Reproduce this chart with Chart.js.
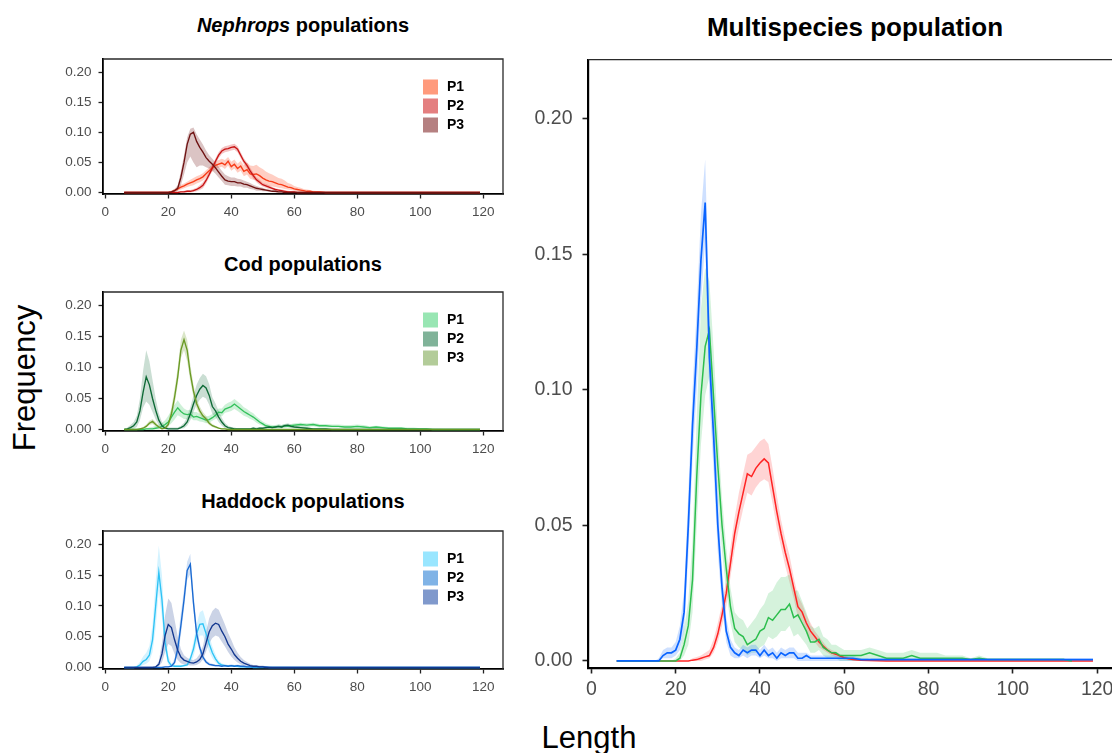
<!DOCTYPE html>
<html><head><meta charset="utf-8">
<script src="https://cdn.jsdelivr.net/npm/chart.js@4.4.1/dist/chart.umd.min.js"></script>
<style>
html,body{margin:0;padding:0;width:1112px;height:753px;overflow:hidden;background:#fff;font-family:"Liberation Sans",Arial,Helvetica,sans-serif;}
canvas{position:absolute;}
.t{position:absolute;color:#000;white-space:nowrap;transform:translate(-50%,-50%);}
</style></head><body>
<div class="t" style="left:303px;top:25px;font-size:20px;font-weight:bold"><i>Nephrops</i> populations</div>
<div class="t" style="left:303px;top:264px;font-size:20px;font-weight:bold">Cod populations</div>
<div class="t" style="left:303px;top:501px;font-size:20px;font-weight:bold">Haddock populations</div>
<div class="t" style="left:855px;top:27px;font-size:26px;font-weight:bold">Multispecies population</div>
<div class="t" style="left:25px;top:378px;font-size:31px;transform:translate(-50%,-50%) rotate(-90deg)">Frequency</div>
<div class="t" style="left:589px;top:738px;font-size:31px">Length</div>
<canvas id="c1" width="490" height="186" style="left:33px;top:39px"></canvas>
<canvas id="c2" width="490" height="190" style="left:33px;top:272px"></canvas>
<canvas id="c3" width="490" height="189" style="left:33px;top:511px"></canvas>
<canvas id="c4" width="643" height="675" style="left:498px;top:38px"></canvas>
<script>
// ---------- tick labels ----------
const X_TICKS = [0, 20, 40, 60, 80, 100, 120];
const Y_TICKS = [0, 0.05, 0.10, 0.15, 0.20];
const SERIES_LABELS = ['P1', 'P2', 'P3'];

// ---------- Nephrops panel ----------
const nephLengths = [6, 18,
  20,21,22,23,24,25,26,27,28,29,
  30,31,32,33,34,35,36,37,38,39,
  40,41,42,43,44,45,46,47,48,49,
  50,51,52,53,54,55,56,57,58,59,
  60,61,62,63,64,65,66, 68,70,72, 119];
const nephP1 = [0,0,
  0,.001,.003,.006,.009,.011,.014,.016,.018,.021,
  .023,.026,.031,.036,.041,.045,.047,.049,.046,.052,
  .043,.047,.040,.044,.035,.038,.031,.030,.031,.028,
  .024,.021,.019,.018,.016,.014,.013,.011,.009,.008,
  .006,.005,.004,.003,.002,.002,.001, .001,0,0, 0];
const nephP1Hi = [0,0,
  .001,.003,.006,.009,.013,.015,.018,.021,.024,.027,
  .029,.032,.037,.042,.047,.051,.054,.056,.054,.059,
  .051,.055,.048,.053,.045,.050,.045,.044,.046,.042,
  .039,.035,.032,.030,.027,.024,.023,.020,.016,.014,
  .011,.009,.008,.006,.005,.004,.003, .002,.001,0, 0];
const nephP1Lo = [0,0,
  0,0,.001,.003,.005,.007,.009,.011,.012,.015,
  .017,.020,.025,.030,.035,.039,.041,.043,.039,.045,
  .036,.040,.033,.036,.027,.030,.023,.021,.021,.018,
  .015,.013,.011,.010,.009,.008,.007,.006,.005,.004,
  .003,.002,.001,.001,0,0,0, 0,0,0, 0];
const nephP2 = [0,0,
  0,0,0,0,.001,.001,.002,.002,.003,.005,
  .008,.012,.020,.030,.041,.052,.062,.069,.072,.073,
  .075,.076,.072,.062,.052,.045,.036,.028,.021,.017,
  .013,.011,.009,.007,.005,.004,.003,.002,.001,.001,
  .001,0,0,0,0,0,0, 0,0,0, 0];
const nephP2Hi = [0,0,
  0,0,.001,.001,.002,.003,.004,.004,.006,.008,
  .012,.017,.025,.035,.046,.057,.067,.074,.077,.078,
  .080,.081,.077,.067,.057,.050,.041,.033,.025,.021,
  .016,.014,.012,.009,.007,.006,.005,.004,.003,.002,
  .002,.001,.001,0,0,0,0, 0,0,0, 0];
const nephP2Lo = [0,0,
  0,0,0,0,0,0,0,0,.001,.002,
  .004,.007,.015,.025,.036,.047,.057,.064,.067,.068,
  .070,.071,.067,.057,.047,.040,.031,.023,.017,.013,
  .010,.008,.006,.005,.003,.002,.001,.001,0,0,
  0,0,0,0,0,0,0, 0,0,0, 0];
const nephP3 = [0,0,
  0,.001,.003,.007,.025,.050,.080,.097,.100,.085,
  .075,.067,.058,.052,.047,.041,.034,.027,.021,.019,
  .018,.018,.016,.016,.014,.013,.011,.009,.007,.006,
  .005,.004,.003,.002,.002,.001,.001,0,0,0,
  0,0,0,0,0,0,0, 0,0,0, 0];
const nephP3Hi = [0,0,
  .001,.003,.006,.012,.035,.062,.092,.106,.108,.097,
  .088,.080,.070,.062,.056,.050,.043,.036,.030,.027,
  .025,.025,.023,.022,.020,.018,.016,.013,.011,.009,
  .008,.006,.005,.004,.003,.002,.002,.001,.001,0,
  0,0,0,0,0,0,0, 0,0,0, 0];
const nephP3Lo = [0,0,
  0,0,.001,.003,.012,.030,.050,.060,.050,.042,
  .045,.045,.042,.040,.036,.031,.025,.019,.013,.012,
  .011,.011,.010,.010,.008,.008,.006,.005,.003,.003,
  .002,.002,.001,.001,0,0,0,0,0,0,
  0,0,0,0,0,0,0, 0,0,0, 0];

// ---------- Cod panel ----------
const codLengths = [6,7,8,9,
  10,11,12,13,14,15,16,17,18,19,
  20,21,22,23,24,25,26,27,28,29,
  30,31,32,33,34,35,36,37,38,39,
  40,41,42,43,44,45,46,47,48,49,
  50,51,52,53,54,55,56,57,58,59,
  60,
  62,64,66,68,70,72,74,76,78,80,
  82,84,86,88,90,92,94,96,98,100,
  102,104,
  119];
const codP1 = [0,0,0,0,
  0,0,0,.001,.001,.001,.002,.003,.005,.008,
  .012,.020,.028,.035,.029,.025,.024,.025,.020,.021,
  .019,.017,.015,.016,.019,.023,.028,.027,.033,.035,
  .037,.041,.037,.033,.029,.026,.023,.020,.016,.012,
  .009,.006,.005,.004,.004,.005,.004,.006,.005,.006,
  .007,
  .008,.007,.008,.006,.006,.005,.005,.004,.004,.005,
  .004,.003,.004,.003,.002,.002,.002,.001,.001,.001,
  .001,0,
  0];
const codP1Hi = [0,0,0,0,
  0,.001,.001,.002,.003,.004,.006,.008,.011,.015,
  .022,.031,.040,.047,.040,.034,.031,.032,.028,.028,
  .025,.023,.021,.022,.025,.029,.034,.034,.040,.043,
  .045,.049,.045,.041,.036,.033,.029,.026,.021,.017,
  .013,.010,.008,.007,.007,.008,.007,.009,.008,.009,
  .010,
  .011,.010,.011,.009,.009,.008,.008,.007,.007,.008,
  .007,.005,.006,.005,.004,.004,.004,.003,.003,.002,
  .002,.001,
  0];
const codP1Lo = [0,0,0,0,
  0,0,0,0,0,0,0,0,.001,.003,
  .005,.010,.016,.023,.020,.017,.017,.019,.015,.015,
  .013,.012,.010,.011,.014,.017,.022,.021,.027,.028,
  .030,.033,.030,.026,.022,.020,.017,.015,.011,.008,
  .006,.003,.003,.002,.002,.003,.002,.003,.003,.003,
  .004,
  .005,.004,.005,.003,.003,.003,.003,.002,.002,.002,
  .002,.001,.002,.001,.001,.001,.001,0,0,0,
  0,0,
  0];
const codP2 = [0,.001,.003,.006,
  .012,.030,.060,.085,.072,.050,.031,.015,.006,.002,
  .001,.001,.001,.001,.003,.006,.012,.025,.041,.055,
  .065,.071,.067,.055,.037,.030,.020,.012,.006,.003,
  .002,.001,.001,.001,.001,.001,.001,.002,.001,.002,
  .002,.003,.004,.003,.004,.005,.004,.006,.007,.005,
  .004,
  .003,.002,.001,.001,.001,0,0,0,0,0,
  0,0,0,0,0,0,0,0,0,0,
  0,0,
  0];
const codP2Hi = [0,.003,.007,.012,
  .022,.050,.095,.128,.110,.080,.050,.026,.012,.005,
  .003,.003,.003,.003,.006,.011,.020,.036,.055,.072,
  .083,.090,.086,.073,.052,.042,.030,.019,.011,.006,
  .004,.003,.002,.002,.002,.002,.002,.004,.003,.004,
  .004,.005,.006,.005,.006,.008,.007,.009,.010,.008,
  .007,
  .005,.004,.002,.002,.002,.001,.001,0,0,0,
  0,0,0,0,0,0,0,0,0,0,
  0,0,
  0];
const codP2Lo = [0,0,0,.001,
  .004,.015,.035,.045,.040,.028,.016,.007,.002,0,
  0,0,0,0,.001,.002,.006,.015,.028,.040,
  .048,.053,.050,.040,.025,.020,.012,.006,.002,.001,
  0,0,0,0,0,0,0,0,0,0,
  0,.001,.002,.001,.002,.002,.002,.003,.004,.002,
  .002,
  .001,0,0,0,0,0,0,0,0,0,
  0,0,0,0,0,0,0,0,0,0,
  0,0,
  0];
const codP3 = [0,0,0,0,
  0,.001,.002,.005,.010,.013,.008,.004,.001,.002,
  .008,.025,.052,.085,.128,.145,.128,.090,.062,.042,
  .030,.022,.017,.010,.006,.004,.002,.001,.001,0,
  0,0,0,0,0,0,0,0,0,0,
  0,0,0,0,0,0,0,0,0,0,
  0,
  0,0,0,0,0,0,0,0,0,0,
  0,0,0,0,0,0,0,0,0,0,
  0,0,
  0];
const codP3Hi = [0,0,0,0,
  0,.002,.004,.008,.014,.017,.012,.006,.002,.004,
  .012,.036,.065,.100,.145,.160,.145,.105,.072,.050,
  .037,.028,.022,.014,.009,.006,.003,.002,.002,.001,
  0,0,0,0,0,0,0,0,0,0,
  0,0,0,0,0,0,0,0,0,0,
  0,
  0,0,0,0,0,0,0,0,0,0,
  0,0,0,0,0,0,0,0,0,0,
  0,0,
  0];
const codP3Lo = [0,0,0,0,
  0,0,.001,.003,.007,.009,.005,.002,0,.001,
  .004,.018,.040,.072,.115,.128,.110,.078,.052,.034,
  .024,.017,.012,.007,.004,.002,.001,0,0,0,
  0,0,0,0,0,0,0,0,0,0,
  0,0,0,0,0,0,0,0,0,0,
  0,
  0,0,0,0,0,0,0,0,0,0,
  0,0,0,0,0,0,0,0,0,0,
  0,0,
  0];

// ---------- Haddock panel ----------
const hadLengths = [6,8,9,
  10,11,12,13,14,15,16,17,18,19,
  20,21,22,23,24,25,26,27,28,29,
  30,31,32,33,34,35,36,37,38,39,
  40,41,42,43,44,45,46,47,48,49,
  50,51,52,53,54,55,
  58,62,119];
const hadP1 = [0,0,0,
  .001,.004,.010,.013,.020,.045,.100,.155,.110,.040,
  .010,.003,.002,.002,.002,.003,.004,.014,.030,.055,
  .070,.071,.055,.038,.024,.014,.007,.004,.003,.002,
  .003,.002,.002,.001,.001,.001,.001,0,0,0,
  0,0,0,0,0,0,
  0,0,0];
const hadP1Hi = [0,0,0,
  .003,.009,.018,.024,.035,.070,.140,.198,.150,.060,
  .020,.007,.004,.004,.004,.005,.007,.020,.042,.070,
  .090,.093,.075,.052,.034,.021,.011,.007,.005,.004,
  .005,.004,.003,.002,.002,.002,.001,.001,0,0,
  0,0,0,0,0,0,
  0,0,0];
const hadP1Lo = [0,0,0,
  0,.001,.004,.006,.010,.025,.065,.125,.080,.025,
  .004,.001,0,0,0,.001,.002,.007,.018,.038,
  .052,.052,.038,.025,.015,.008,.004,.002,.001,.001,
  .001,.001,0,0,0,0,0,0,0,0,
  0,0,0,0,0,0,
  0,0,0];
const hadP2 = [0,0,0,
  0,0,0,0,0,0,0,0,0,.001,
  .001,.002,.008,.030,.068,.110,.158,.168,.105,.055,
  .032,.017,.009,.005,.004,.003,.003,.002,.003,.002,
  .003,.002,.003,.002,.002,.001,.001,.001,.001,.001,
  .001,.001,0,0,0,0,
  0,0,0];
const hadP2Hi = [0,0,0,
  0,0,0,0,0,0,0,0,.001,.002,
  .002,.004,.015,.045,.088,.128,.172,.185,.122,.068,
  .040,.022,.012,.008,.006,.005,.005,.004,.005,.004,
  .005,.004,.005,.004,.003,.002,.002,.002,.002,.002,
  .002,.001,.001,0,0,0,
  0,0,0];
const hadP2Lo = [0,0,0,
  0,0,0,0,0,0,0,0,0,0,
  0,.001,.004,.020,.052,.095,.142,.152,.092,.045,
  .025,.012,.006,.003,.002,.001,.001,.001,.001,.001,
  .001,.001,.001,.001,0,0,0,0,0,0,
  0,0,0,0,0,0,
  0,0,0];
const hadP3 = [0,0,0,
  0,0,0,0,0,0,.001,.005,.022,.052,
  .070,.065,.045,.028,.017,.012,.010,.008,.007,.009,
  .013,.022,.040,.058,.068,.072,.070,.059,.050,.038,
  .030,.021,.015,.010,.007,.005,.003,.002,.002,.001,
  .001,0,0,0,0,0,
  0,0,0];
const hadP3Hi = [0,0,0,
  0,0,0,0,0,0,.002,.010,.040,.085,
  .112,.105,.078,.050,.030,.020,.016,.013,.012,.015,
  .022,.035,.058,.080,.092,.097,.094,.082,.070,.056,
  .045,.033,.024,.017,.012,.009,.006,.004,.004,.003,
  .003,.002,.002,.001,.001,.001,
  .001,0,0];
const hadP3Lo = [0,0,0,
  0,0,0,0,0,0,0,.002,.008,.025,
  .038,.035,.022,.012,.007,.005,.004,.003,.003,.004,
  .007,.013,.026,.040,.048,.052,.050,.042,.034,.025,
  .018,.012,.008,.005,.003,.002,.001,.001,.001,0,
  0,0,0,0,0,0,
  0,0,0];

// ---------- Multispecies panel ----------
const mainLengths = [6,
  14,15,16,17,18,19,
  20,21,22,23,24,25,26,27,28,29,
  30,31,32,33,34,35,36,37,38,39,
  40,41,42,43,44,45,46,47,48,49,
  50,51,52,53,54,55,56,57,58,59,
  60,61,62,
  64,66,68,70,72,74,76,78,80,82,
  84,86,88,90,92,94,96,98,100,102,
  104,106,108,110,112,114,
  119];
const mainNephrops = [0,
  0,0,0,0,0,0,
  0,0,0,0,.0003,.0005,.001,.0015,.002,.005,
  .010,.017,.025,.036,.047,.055,.062,.069,.068,.071,
  .073,.0745,.073,.064,.055,.047,.040,.034,.027,.020,
  .018,.014,.011,.009,.007,.0055,.004,.003,.0025,.0018,
  .0012,.0008,.0005,
  .0003,.0002,.0001,0,0,0,0,0,0,0,
  0,0,0,0,0,0,0,0,0,0,
  0,0,0,0,0,0,
  0];
const mainNephropsHi = [0,
  0,0,0,0,0,0,
  0,0,0,0,.001,.0015,.002,.003,.004,.008,
  .014,.021,.030,.042,.053,.062,.069,.076,.077,.079,
  .081,.082,.080,.071,.061,.052,.045,.039,.031,.024,
  .021,.017,.014,.011,.009,.007,.005,.004,.0035,.0025,
  .002,.0015,.001,
  .0008,.0005,.0003,0,0,0,0,0,0,0,
  0,0,0,0,0,0,0,0,0,0,
  0,0,0,0,0,0,
  0];
const mainNephropsLo = [0,
  0,0,0,0,0,0,
  0,0,0,0,0,0,0,.0005,.001,.003,
  .007,.013,.020,.031,.041,.049,.056,.062,.061,.064,
  .066,.067,.066,.058,.049,.042,.035,.029,.023,.016,
  .015,.011,.008,.007,.005,.004,.003,.002,.0015,.001,
  .0005,.0003,.0002,
  0,0,0,0,0,0,0,0,0,0,
  0,0,0,0,0,0,0,0,0,0,
  0,0,0,0,0,0,
  0];
const mainCod = [0,
  0,0,0,0,0,0,
  0,.001,.006,.013,.030,.068,.098,.116,.122,.097,
  .072,.050,.034,.020,.012,.010,.009,.006,.007,.008,
  .011,.012,.016,.015,.017,.019,.019,.021,.016,.017,
  .014,.011,.007,.007,.008,.005,.004,.003,.003,.002,
  .002,.002,.002,
  .002,.003,.002,.001,.001,.001,.002,.001,.001,.001,
  .001,.001,.001,.0005,.001,.0005,.0005,.0005,.0005,.0005,
  .0005,.0005,.0005,.0005,.0005,0,
  null];
const mainCodHi = [0,
  0,0,0,0,0,0,
  .001,.003,.012,.022,.045,.090,.130,.145,.140,.115,
  .085,.060,.042,.027,.018,.016,.015,.012,.014,.016,
  .019,.021,.025,.026,.029,.031,.031,.032,.026,.026,
  .022,.018,.013,.012,.013,.009,.008,.006,.006,.005,
  .004,.004,.004,
  .004,.005,.004,.003,.003,.003,.004,.003,.003,.003,
  .002,.002,.002,.001,.002,.001,.001,.001,.001,.001,
  .001,.001,.001,.001,.001,0,
  null];
const mainCodLo = [0,
  0,0,0,0,0,0,
  0,0,.002,.006,.018,.050,.080,.098,.105,.082,
  .060,.040,.026,.014,.007,.005,.004,.002,.003,.003,
  .005,.006,.009,.008,.009,.011,.011,.013,.009,.010,
  .008,.006,.003,.003,.004,.002,.001,.001,.001,0,
  0,0,0,
  0,.001,0,0,0,0,0,0,0,0,
  0,0,0,0,0,0,0,0,0,0,
  0,0,0,0,0,0,
  null];
const mainHaddock = [0,
  0,0,0,.002,.003,.003,
  .004,.008,.018,.050,.087,.115,.148,.169,.112,.083,
  .050,.027,.011,.005,.003,.002,.004,.003,.004,.004,
  .002,.004,.002,.003,.001,.003,.002,.003,.003,.001,
  .001,.002,.001,.001,.001,.001,.001,.001,.001,.001,
  .001,.001,.001,
  .0005,.0005,.0005,.0005,.0005,.0005,.0005,.0005,.0005,.0005,
  .0005,.0005,.0005,.0005,.0005,.0005,.0005,.0005,.0005,.0005,
  .0005,.0005,.0005,.0005,.0005,.0005,
  .0005];
const mainHaddockHi = [0,
  0,0,.001,.004,.005,.005,
  .007,.013,.026,.062,.100,.130,.165,.185,.128,.098,
  .060,.034,.016,.008,.005,.004,.006,.005,.006,.006,
  .004,.006,.004,.005,.003,.005,.004,.005,.005,.003,
  .003,.003,.002,.002,.002,.002,.002,.002,.002,.002,
  .002,.002,.002,
  .001,.001,.001,.001,.001,.001,.001,.001,.001,.001,
  .001,.001,.001,.001,.001,.001,.001,.001,.001,.001,
  .001,.001,.001,.001,.001,.001,
  .001];
const mainHaddockLo = [0,
  0,0,0,.001,.001,.001,
  .002,.004,.011,.039,.074,.100,.132,.155,.097,.070,
  .040,.020,.007,.002,.001,.001,.002,.001,.002,.002,
  .001,.002,.001,.001,0,.001,.001,.001,.001,0,
  0,0,0,0,0,0,0,0,0,0,
  0,0,0,
  0,0,0,0,0,0,0,0,0,0,
  0,0,0,0,0,0,0,0,0,0,
  0,0,0,0,0,0,
  0];

// ---------- drawing ----------
const FONT = '"Liberation Sans", Arial, Helvetica, sans-serif';

const boxPlugin = {
  id: 'box',
  afterDraw(chart) {
    const {ctx, chartArea: a} = chart;
    ctx.save();
    ctx.strokeStyle = '#2a2a2a';
    ctx.lineWidth = 1.3;
    ctx.beginPath();
    ctx.moveTo(a.left, a.top); ctx.lineTo(a.right, a.top); ctx.lineTo(a.right, a.bottom);
    ctx.stroke();
    ctx.restore();
  }
};
const keyLegend = {
  id: 'keyLegend',
  afterDraw(chart, args, opts) {
    if (!opts || !opts.items) return;
    const {ctx, chartArea: a} = chart;
    ctx.save();
    ctx.font = 'bold 14px ' + FONT;
    ctx.textBaseline = 'middle';
    ctx.textAlign = 'left';
    opts.items.forEach((it, i) => {
      const cy = a.top + opts.y0 + i * opts.dy;
      ctx.fillStyle = it.color;
      ctx.fillRect(a.left + opts.x, cy - 7.5, 15, 15);
      ctx.fillStyle = '#000';
      ctx.fillText(it.label, a.left + opts.x + 24, cy + 0.5);
    });
    ctx.restore();
  }
};
Chart.register(boxPlugin, keyLegend);

// k = stacking rank: later series drawn on top (lower order value = drawn later)
function ribbon(len, mean, lo, hi, line, fill, lw, k) {
  const pts = arr => len.map((x, i) => ({x: x, y: arr[i]}));
  return [
    {data: pts(hi), borderColor: 'rgba(0,0,0,0)', borderWidth: 0, backgroundColor: fill, fill: '+1', pointRadius: 0, order: 20 - k},
    {data: pts(lo), borderColor: 'rgba(0,0,0,0)', borderWidth: 0, backgroundColor: 'rgba(0,0,0,0)', fill: false, pointRadius: 0, order: 20 - k},
    {data: pts(mean), borderColor: line, borderWidth: lw, fill: false, pointRadius: 0, order: 10 - k}
  ];
}

function makeChart(id, datasets, o) {
  const yTickVals = Y_TICKS, xTickVals = X_TICKS;
  return new Chart(document.getElementById(id), {
    type: 'line',
    data: {datasets: datasets},
    options: {
      responsive: false, animation: false, devicePixelRatio: 1,
      layout: {padding: o.padding},
      elements: {line: {tension: 0}, point: {radius: 0}},
      plugins: {legend: {display: false}, tooltip: {enabled: false}, keyLegend: o.legend || {}},
      scales: {
        x: {
          type: 'linear', min: o.xmin, max: o.xmax,
          afterBuildTicks: ax => { ax.ticks = xTickVals.map(v => ({value: v})); },
          afterFit: s => { s.height = o.xh; },
          ticks: {color: '#4d4d4d', font: {family: FONT, size: o.fs}, padding: o.xpad, maxRotation: 0, autoSkip: false, callback: v => String(v)},
          grid: {display: true, drawOnChartArea: false, drawTicks: true, tickLength: o.tl, tickWidth: o.tw, tickColor: '#222'},
          border: {display: true, color: '#000', width: o.bw}
        },
        y: {
          type: 'linear', min: o.ymin, max: o.ymax,
          afterBuildTicks: ax => { ax.ticks = yTickVals.map(v => ({value: v})); },
          afterFit: s => { s.width = o.yw; },
          ticks: {color: '#4d4d4d', font: {family: FONT, size: o.fs}, padding: o.ypad, callback: v => v.toFixed(2)},
          grid: {display: true, drawOnChartArea: false, drawTicks: true, tickLength: o.tl, tickWidth: o.tw, tickColor: '#222'},
          border: {display: true, color: '#000', width: o.bw}
        }
      }
    }
  });
}

const smallOpts = (legendColors) => ({
  padding: {left: 10, right: 20, top: 20, bottom: 1},
  xmin: -0.73, xmax: 126.3, ymin: -0.0025, ymax: 0.222,
  xh: 30, yw: 60, fs: 13.5, xpad: 6, ypad: 7, tl: 4.5, tw: 1.3, bw: 1.8,
  legend: {x: 320, y0: 28, dy: 19, items: SERIES_LABELS.map((l, i) => ({label: l, color: legendColors[i]}))}
});

// Nephrops
makeChart('c1', [].concat(
  ribbon(nephLengths, nephP1, nephP1Lo, nephP1Hi, '#F83C18', 'rgba(255,80,40,0.28)', 1.35, 0),
  ribbon(nephLengths, nephP2, nephP2Lo, nephP2Hi, '#C81414', 'rgba(210,20,20,0.25)', 1.35, 1),
  ribbon(nephLengths, nephP3, nephP3Lo, nephP3Hi, '#6E1212', 'rgba(110,20,20,0.25)', 1.35, 2)
), smallOpts(['#FF9A7C', '#E47F80', '#B58081']));

// Cod
makeChart('c2', [].concat(
  ribbon(codLengths, codP1, codP1Lo, codP1Hi, '#34C25C', 'rgba(60,200,100,0.25)', 1.35, 0),
  ribbon(codLengths, codP2, codP2Lo, codP2Hi, '#0E6A36', 'rgba(14,106,54,0.22)', 1.35, 1),
  ribbon(codLengths, codP3, codP3Lo, codP3Hi, '#6A9A24', 'rgba(106,154,36,0.25)', 1.35, 2)
), smallOpts(['#98E6B3', '#80B399', '#B3CC99']));

// Haddock
makeChart('c3', [].concat(
  ribbon(hadLengths, hadP1, hadP1Lo, hadP1Hi, '#2EC3F5', 'rgba(60,200,255,0.22)', 1.35, 0),
  ribbon(hadLengths, hadP2, hadP2Lo, hadP2Hi, '#1A6AD2', 'rgba(26,106,210,0.2)', 1.35, 1),
  ribbon(hadLengths, hadP3, hadP3Lo, hadP3Hi, '#13378F', 'rgba(19,55,143,0.22)', 1.35, 2)
), smallOpts(['#99E6FF', '#80B3E6', '#8099CC']));

// Multispecies
makeChart('c4', [].concat(
  ribbon(mainLengths, mainNephrops, mainNephropsLo, mainNephropsHi, '#FF2424', 'rgba(255,60,60,0.22)', 1.5, 0),
  ribbon(mainLengths, mainCod, mainCodLo, mainCodHi, '#2DBE4E', 'rgba(46,190,80,0.2)', 1.5, 1),
  ribbon(mainLengths, mainHaddock, mainHaddockLo, mainHaddockHi, '#0A64FF', 'rgba(10,100,255,0.2)', 1.7, 2)
), {
  padding: {left: 10, right: 20, top: 20, bottom: 5},
  xmin: -0.8, xmax: 125.65, ymin: -0.0026, ymax: 0.2217,
  xh: 40, yw: 80, fs: 19.5, xpad: 4, ypad: 10, tl: 5.5, tw: 1.6, bw: 2.2
});
</script>
</body></html>
